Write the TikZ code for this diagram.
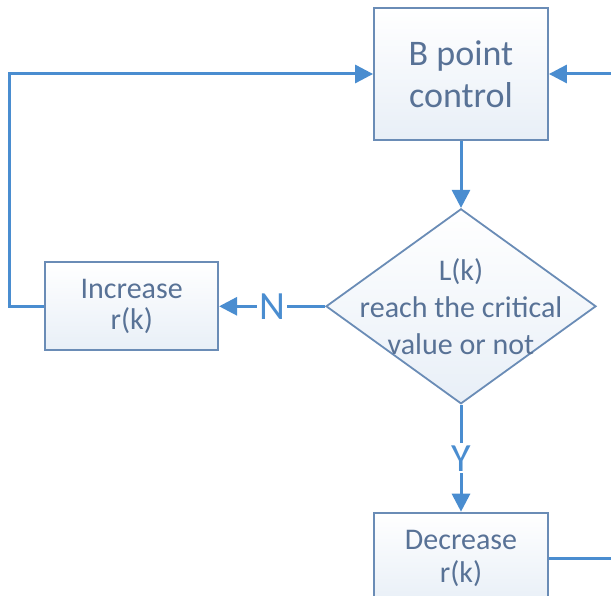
\documentclass[tikz,border=0pt]{standalone}
\usepackage{fontspec}
\setmainfont{Carlito}
\usepackage{tikz}
\usetikzlibrary{shapes.geometric, arrows.meta, positioning}

\definecolor{flowblue}{RGB}{74,141,208}
\definecolor{edgeblue}{RGB}{106,140,182}
\definecolor{textblue}{RGB}{88,114,150}
\definecolor{boxfill}{RGB}{232,239,247}

\begin{document}
\begin{tikzpicture}[x=1pt, y=-1pt, node distance=60pt,
    block/.style={rectangle, draw=edgeblue, line width=1.8pt, top color=white, bottom color=boxfill,
        text=textblue, align=center, inner sep=0pt},
    decision/.style={diamond, draw=edgeblue, line width=1.8pt, top color=white, bottom color=boxfill,
        minimum width=270pt, minimum height=195pt, inner sep=0pt},
    flow/.style={draw=flowblue, line width=3pt, -{Triangle[length=18pt,width=18pt]}},
    yesno/.style={fill=white, text=flowblue, inner sep=2pt, font=\fontsize{40}{40}\selectfont}]

    \useasboundingbox (0,0) rectangle (611,596);
    \clip (0,0) rectangle (611,596);

    \node [block, minimum width=174pt, minimum height=132pt, font=\fontsize{36}{42}\selectfont] (bpc) at (461,74) {B point\\control};
    \node [decision, below=67pt of bpc,
        label={[text=textblue, align=center, font=\fontsize{30}{37}\selectfont]center:{L(k)\\reach the critical\\value or not}}] (crit) {};
    \node [block, left=106pt of crit, minimum width=173pt, minimum height=88pt, font=\fontsize{30}{31}\selectfont] (inc) {Increase\\r(k)};
    \node [block, below=107pt of crit, minimum width=174pt, minimum height=92pt, font=\fontsize{30}{33}\selectfont] (dec) {Decrease\\r(k)};

    \draw [flow] (bpc) -- (crit);
    \draw [flow] (crit.west) -- node[yesno]{N} (inc.east);
    \draw [flow] (crit.south) -- node[yesno]{Y} (dec.north);
    \draw [flow] (inc.west) -- ++(-35pt,0) |- (bpc.west);
    \draw [flow] (dec.east) -- ++(68pt,0) |- (bpc.east);
\end{tikzpicture}
\end{document}
